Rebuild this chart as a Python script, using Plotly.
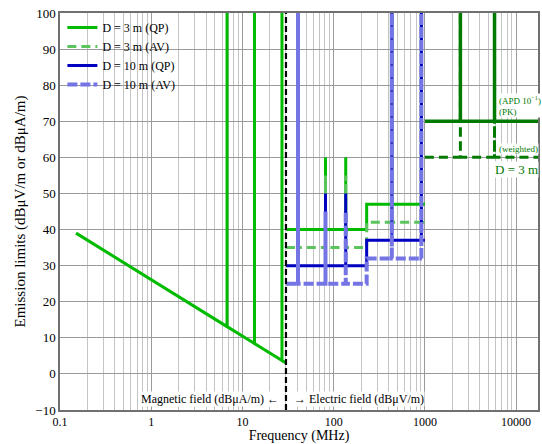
import plotly.graph_objects as go

# ---- data ----
# D = 3 m (QP): magnetic field part (0.15-30 MHz) with ISM spikes, then electric field part
mag3qp_x = [0.15, 6.78, 6.78, 6.78, 13.56, 13.56, 13.56, 27.12, 27.12, 27.12, 30]
mag3qp_y = [39, 13.1, 100, 13.1, 8.4, 100, 8.4, 3.7, 100, 3.7, 3]

ele_x = [30, 40.68, 40.68, 40.68, 81.36, 81.36, 81.36, 135.6, 135.6, 135.6,
         230, 230, 433.92, 433.92, 433.92, 915, 915, 915, 1000]
ele3qp_y = [40, 40, 100, 40, 40, 60, 40, 40, 60, 40, 40, 47, 47, 100, 47, 47, 100, 47, 47]
ele3av_y = [35, 35, 100, 35, 35, 55, 35, 35, 55, 35, 35, 42, 42, 100, 42, 42, 100, 42, 42]
ele10qp_y = [30, 30, 100, 30, 30, 50, 30, 30, 50, 30, 30, 37, 37, 100, 37, 37, 100, 37, 37]
ele10av_y = [25, 25, 100, 25, 25, 45, 25, 25, 45, 25, 25, 32, 32, 100, 32, 32, 100, 32, 32]

# above 1 GHz, D = 3 m
ghz_x = [1000, 2450, 2450, 2450, 5800, 5800, 5800, 17500]
ghz_pk_y = [70, 70, 100, 70, 70, 100, 70, 70]
ghz_w_y = [60, 60, 100, 60, 60, 100, 60, 60]

# boundary magnetic/electric
bound_x = [30, 30]
bound_y = [-10, 100]

x_tickvals = [0.1, 1, 10, 100, 1000, 10000]
x_ticktext = ["0.1", "1", "10", "100", "1000", "10000"]
y_tickvals = [-10, 0, 10, 20, 30, 40, 50, 60, 70, 80, 90, 100]
y_ticktext = ["\u221210", "0", "10", "20", "30", "40", "50", "60", "70", "80", "90", "100"]

# ---- styles ----
C_G = "#00bb00"
C_GL = "#5cc45c"
C_B = "#0000c0"
C_BL = "#7474e4"
C_DG = "#007a00"
FONT = "Liberation Serif"
DASH = "9px,5px"

fig = go.Figure()

fig.add_trace(go.Scatter(x=mag3qp_x, y=mag3qp_y, mode="lines", line=dict(color=C_G, width=3),
                         legendgroup="g3qp", name="D = 3 m (QP)"))
fig.add_trace(go.Scatter(x=ele_x, y=ele3qp_y, mode="lines", line=dict(color=C_G, width=3),
                         legendgroup="g3qp", showlegend=False))
fig.add_trace(go.Scatter(x=ele_x, y=ele3av_y, mode="lines", line=dict(color=C_GL, width=3, dash=DASH),
                         name="D = 3 m (AV)"))
fig.add_trace(go.Scatter(x=ele_x, y=ele10qp_y, mode="lines", line=dict(color=C_B, width=3),
                         name="D = 10 m (QP)"))
fig.add_trace(go.Scatter(x=ele_x, y=ele10av_y, mode="lines", line=dict(color=C_BL, width=4, dash="10px,3px"),
                         name="D = 10 m (AV)"))
fig.add_trace(go.Scatter(x=ghz_x, y=ghz_w_y, mode="lines", line=dict(color=C_DG, width=3, dash=DASH),
                         showlegend=False))
fig.add_trace(go.Scatter(x=ghz_x, y=ghz_pk_y, mode="lines", line=dict(color=C_DG, width=3.5),
                         showlegend=False))
fig.add_trace(go.Scatter(x=bound_x, y=bound_y, mode="lines", line=dict(color="black", width=2.2, dash="6px,3px"),
                         showlegend=False))

ann_font = dict(family=FONT, size=12, color="black")
fig.add_annotation(x=1.46, y=-7, xref="x", yref="y", text="Magnetic field (dB\u03bcA/m) \u2190",
                   showarrow=False, xanchor="right", yanchor="middle", bgcolor="white", borderpad=0,
                   font=ann_font, xshift=-4)
fig.add_annotation(x=1.50, y=-7, xref="x", yref="y", text="\u2192 Electric field (dB\u03bcV/m)",
                   showarrow=False, xanchor="left", yanchor="middle", bgcolor="white", borderpad=0,
                   font=ann_font, xshift=5)
fig.add_annotation(x=3.80, y=70, xref="x", yref="y", text="(APD 10<sup>\u22121</sup>)<br>(PK)",
                   showarrow=False, xanchor="left", yanchor="bottom", align="left", bgcolor="white",
                   borderpad=0, yshift=3, font=dict(family=FONT, size=9, color=C_DG))
fig.add_annotation(x=3.80, y=60, xref="x", yref="y", text="(weighted)",
                   showarrow=False, xanchor="left", yanchor="bottom", bgcolor="white",
                   borderpad=0, yshift=2, font=dict(family=FONT, size=9, color=C_DG))
fig.add_annotation(x=1.0, y=60, xref="paper", yref="y", text="D = 3 m",
                   showarrow=False, xanchor="right", yanchor="top", bgcolor="white",
                   borderpad=0, yshift=-4, xshift=1, font=dict(family=FONT, size=13, color=C_DG))

axis_common = dict(showline=True, linecolor="#707070", linewidth=1.5, mirror=True, ticks="",
                   zeroline=False)

fig.update_xaxes(type="log", range=[-1, 4.24], tickvals=x_tickvals, ticktext=x_ticktext,
                 showgrid=True, gridcolor="#9a9a9a", gridwidth=1,
                 minor=dict(dtick="D1", showgrid=True, gridcolor="#c4c4c4", gridwidth=1, ticks=""),
                 tickfont=dict(family=FONT, size=12, color="black"),
                 title=dict(text="Frequency (MHz)", font=dict(family=FONT, size=14, color="black"), standoff=0),
                 **axis_common)
fig.update_yaxes(range=[-10, 100], tickvals=y_tickvals, ticktext=y_ticktext,
                 showgrid=True, gridcolor="#9a9a9a", gridwidth=1,
                 tickfont=dict(family=FONT, size=13, color="black"),
                 title=dict(text="Emission limits (dB\u03bcV/m or dB\u03bcA/m)",
                            font=dict(family=FONT, size=15, color="black"), standoff=6),
                 **axis_common)

fig.update_layout(
    width=542, height=444,
    margin=dict(l=60, r=2, t=13, b=34),
    paper_bgcolor="white", plot_bgcolor="white",
    font=dict(family=FONT, size=12, color="black"),
    legend=dict(x=0.005, y=1.0, xanchor="left", yanchor="top", bgcolor="rgba(0,0,0,0)",
                font=dict(family=FONT, size=12, color="black"), tracegroupgap=0,
                borderwidth=0),
    showlegend=True,
)

fig.write_html("out.html")
